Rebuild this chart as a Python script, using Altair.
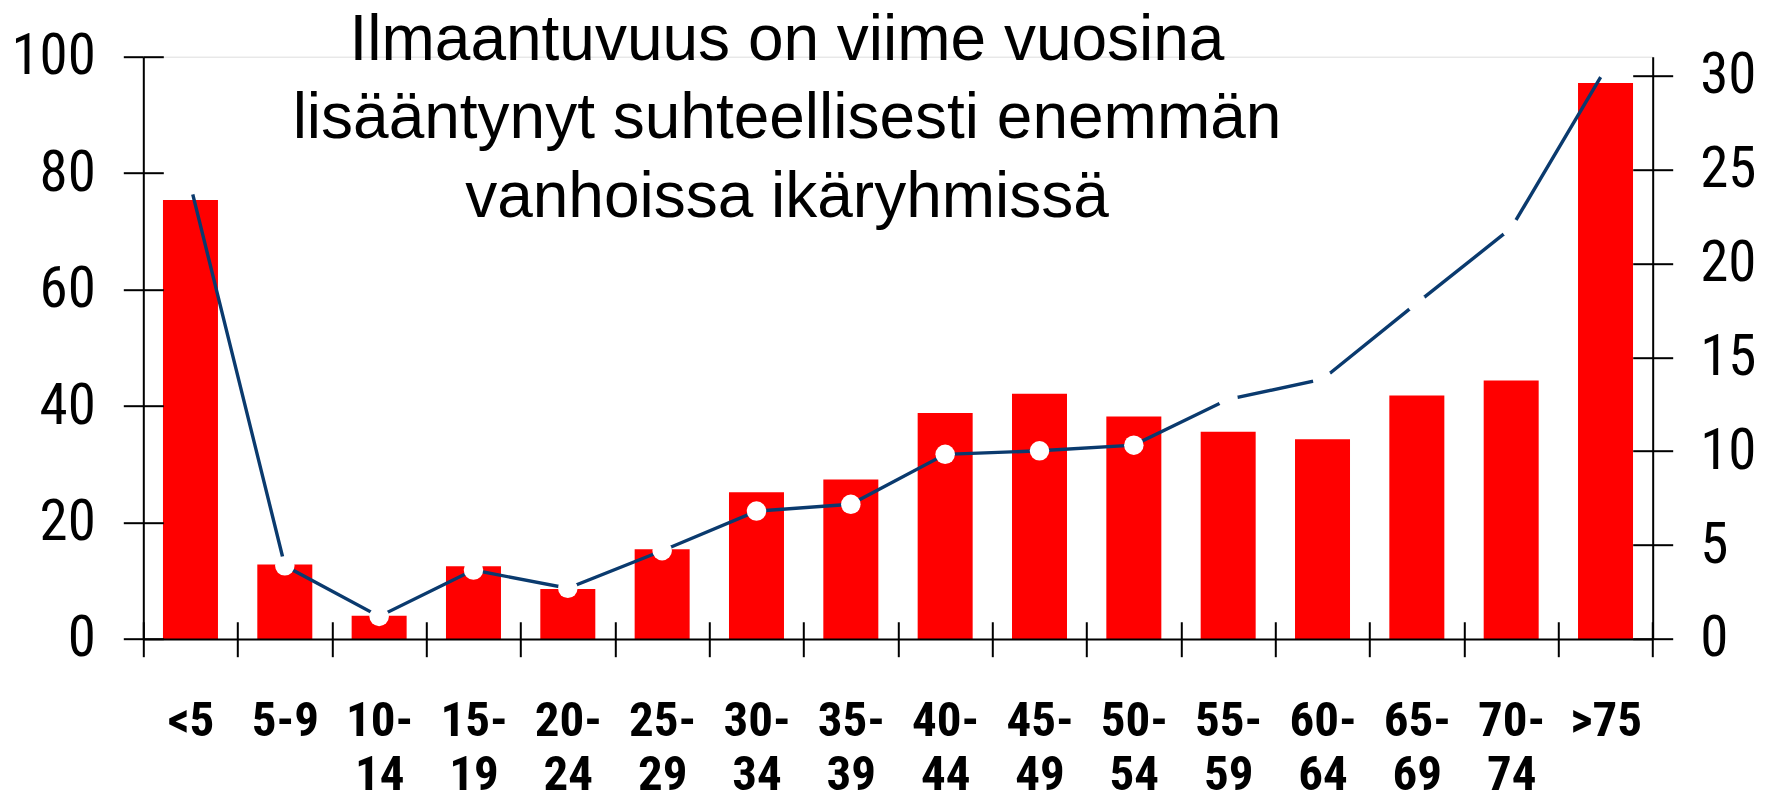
import altair as alt
import pandas as pd

categories = ["<5", "5-9", "10-14", "15-19", "20-24", "25-29", "30-34", "35-39",
              "40-44", "45-49", "50-54", "55-59", "60-64", "65-69", "70-74", ">75"]
bar_values = [75.4, 12.8, 4.0, 12.5, 8.6, 15.4, 25.2, 27.4,
              38.8, 42.1, 38.2, 35.6, 34.3, 41.8, 44.4, 95.5]
line_values = [24.16, 3.9, 1.2, 3.67, 2.7, 4.7, 6.81, 7.17,
               9.83, 10.02, 10.32, 12.76, 13.83, 17.88, 21.87, 30.35]
left_ticks = [0, 20, 40, 60, 80, 100]
right_ticks = [0, 5, 10, 15, 20, 25, 30]
title_lines = ["Ilmaantuvuus on viime vuosina",
               "lisääntynyt suhteellisesti enemmän",
               "vanhoissa ikäryhmissä"]

df = pd.DataFrame({"ika": categories, "bar": bar_values, "line": line_values})

W, H = 1509.4, 582.3
LINE_COLOR = "#0a3a6e"
NARROW = "Roboto Condensed, Liberation Sans"

x_enc = alt.X(
    "ika:N", sort=categories,
    scale=alt.Scale(paddingInner=0, paddingOuter=0),
    axis=alt.Axis(
        title=None, orient="bottom", tickBand="extent",
        tickSize=17.7, tickWidth=2, tickColor="black",
        domainColor="black", domainWidth=2,
        grid=True, gridColor="black", gridWidth=2, gridOpacity=1,
        gridDash=[0, H - 17.3, 17.3, 3000],
        labelAngle=0, labelFont=NARROW, labelFontSize=49,
        labelFontWeight="bold",
        labelColor="black", labelPadding=40, labelLineHeight=54,
        labelOverlap=False,
        labelExpr="length(datum.label) > 3 ? [slice(datum.label, 0, 3), slice(datum.label, 3)] : datum.label",
        zindex=1,
    ),
)

bars = alt.Chart(df).mark_bar(color="#ff0000", width=alt.RelativeBandSize(0.583)).encode(
    x=x_enc,
    y=alt.Y(
        "bar:Q",
        scale=alt.Scale(domain=[0, 100], nice=False),
        axis=alt.Axis(
            title=None, orient="left", values=left_ticks,
            tickSize=20, tickWidth=2, tickColor="black",
            domainColor="black", domainWidth=2,
            grid=True, gridColor="black", gridWidth=2, gridOpacity=1, gridDash=[20, 4000],
            labelFont=NARROW, labelFontSize=57, labelFontWeight="normal",
            labelColor="black", labelPadding=28,
            labelOverlap=False, zindex=1,
        ),
    ),
)

line = alt.Chart(df).mark_line(
    color=LINE_COLOR, strokeWidth=3.4,
    point=alt.OverlayMarkDef(filled=True, fill="white", color="white", size=380, opacity=1, strokeWidth=0),
).encode(
    x=x_enc,
    y=alt.Y(
        "line:Q",
        scale=alt.Scale(domain=[0, 31], nice=False),
        axis=alt.Axis(
            title=None, orient="right", values=right_ticks,
            tickSize=20, tickWidth=2, tickColor="black",
            domainColor="black", domainWidth=2,
            grid=True, gridColor="black", gridWidth=2, gridOpacity=1, gridDash=[20, 4000],
            labelFont=NARROW, labelFontSize=57, labelFontWeight="normal",
            labelColor="black", labelPadding=27,
            labelOverlap=False, zindex=1,
        ),
    ),
)

chart = alt.layer(bars, line).resolve_scale(y="independent").properties(
    width=W, height=H,
    autosize=alt.AutoSizeParams(type="none"),
    padding={"left": 135.3, "top": 48.7, "right": 108, "bottom": 157},
    title=alt.TitleParams(
        text=title_lines, font="Liberation Sans", fontSize=64, fontWeight="normal",
        color="black", anchor="middle", frame="group", dx=-111, offset=-202,
        lineHeight=78.3,
    ),
).configure_view(stroke=None).configure(background="white")

chart.save("out.html", embed_options={"renderer": "svg", "actions": False})
